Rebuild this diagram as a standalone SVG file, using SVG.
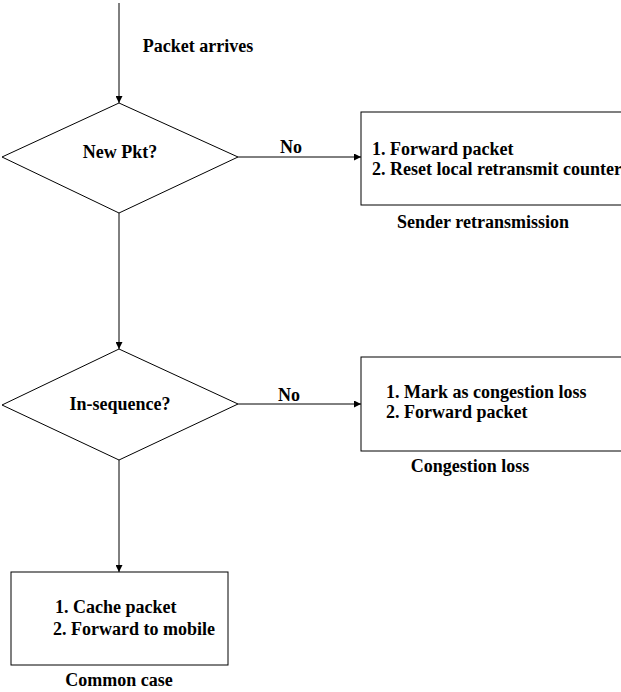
<svg xmlns="http://www.w3.org/2000/svg" width="621" height="692" viewBox="0 0 621 692">
<style>
text{font-family:"Liberation Serif","Times New Roman",serif;font-weight:bold;font-size:18px;fill:#000}
.c{text-anchor:middle}
.shape{fill:#fff;stroke:#000;stroke-width:1}
.conn{stroke:#000;stroke-width:1;fill:none;marker-end:url(#ah)}
</style>
<defs>
<marker id="ah" viewBox="0 0 10 10" refX="10" refY="5" markerWidth="7" markerHeight="7" markerUnits="userSpaceOnUse" orient="auto">
<path d="M0,0 L10,5 L0,10 z" fill="#000"/>
</marker>
</defs>
<g id="connectors">
<line class="conn" x1="119" y1="3" x2="119" y2="103"/>
<line class="conn" x1="238" y1="157" x2="361" y2="157"/>
<line class="conn" x1="119" y1="213" x2="119" y2="349"/>
<line class="conn" x1="238" y1="404" x2="361" y2="404"/>
<line class="conn" x1="119" y1="460" x2="119" y2="572"/>
</g>
<g id="label-arrives"><text class="c" x="198" y="52">Packet arrives</text></g>
<g id="label-no1"><text class="c" x="291" y="153">No</text></g>
<g id="label-no2"><text class="c" x="289" y="401">No</text></g>
<g id="d1">
<polygon class="shape" points="119,103 238,157 119,213 2,157"/>
<text class="c" x="120" y="158">New Pkt?</text>
</g>
<g id="b1">
<rect class="shape" x="361" y="112" width="270" height="93"/>
<text x="372" y="155">1. Forward packet</text>
<text x="372" y="175">2. Reset local retransmit counter</text>
<text class="c" x="483" y="228">Sender retransmission</text>
</g>
<g id="d2">
<polygon class="shape" points="119,349 238,404 119,460 2,405"/>
<text class="c" x="120" y="410">In-sequence?</text>
</g>
<g id="b2">
<rect class="shape" x="361" y="357" width="270" height="94"/>
<text x="386" y="398">1. Mark as congestion loss</text>
<text x="386" y="418">2. Forward packet</text>
<text class="c" x="470" y="472">Congestion loss</text>
</g>
<g id="b3">
<rect class="shape" x="11" y="572" width="217" height="93"/>
<text x="55" y="613">1. Cache packet</text>
<text x="53" y="635">2. Forward to mobile</text>
<text class="c" x="119" y="686">Common case</text>
</g>
</svg>
